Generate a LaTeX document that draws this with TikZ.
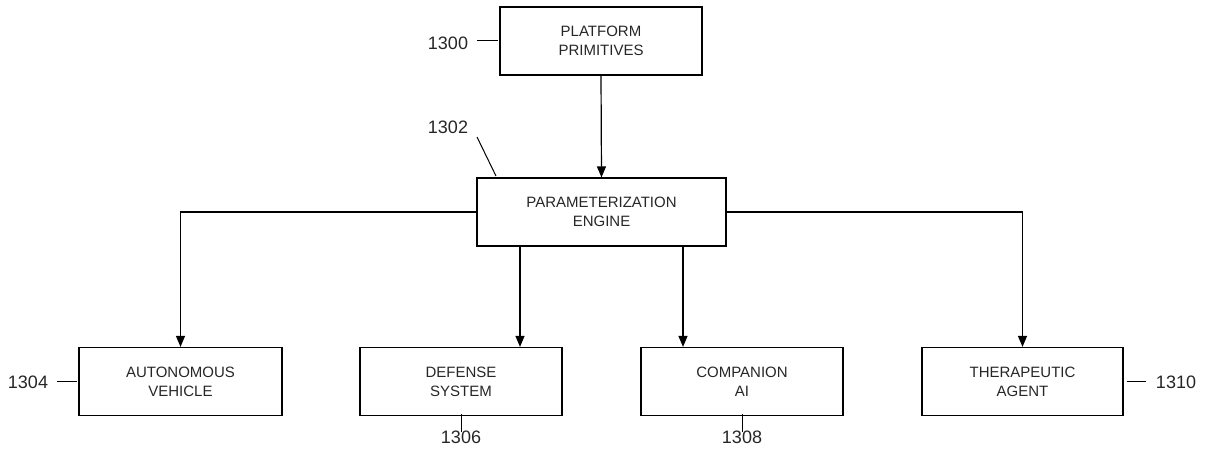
\documentclass[tikz,border=0pt]{standalone}
\usepackage{fontspec}
\setmainfont{Liberation Sans}
\usetikzlibrary{arrows.meta,calc}
\begin{document}
\begin{tikzpicture}[x=1pt,y=-1pt,
  box/.style={draw, line width=1.2pt, minimum height=68pt, inner sep=0pt, align=center,
    font=\fontsize{15}{19}\selectfont, text=black!85},
  arr/.style={line width=1.2pt, -{Triangle[length=11pt,width=9pt]}},
  lead/.style={line width=1pt},
  lbl/.style={inner sep=0pt, font=\fontsize{18}{20}\selectfont, text=black!85}]
\useasboundingbox (0,0) rectangle (1210,452);
\node[box, minimum width=202pt] (PP) at (601,41) {PLATFORM\\PRIMITIVES};
\node[box, minimum width=249pt] (PE) at (601.5,212) {PARAMETERIZATION\\ENGINE};
\node[box, minimum width=203pt] (AV) at (180.5,381.5) {AUTONOMOUS\\VEHICLE};
\node[box, minimum width=202pt] (DS) at (461,381.5) {DEFENSE\\SYSTEM};
\node[box, minimum width=202pt] (CA) at (742,381.5) {COMPANION\\AI};
\node[box, minimum width=201pt] (TA) at (1022.5,381.5) {THERAPEUTIC\\AGENT};
\coordinate (c1) at (520,0);
\coordinate (c2) at (683,0);
\draw[arr] (PP.south) -- (PE.north);
\draw[arr] (PE.west) -| (AV.north);
\draw[arr] (PE.east) -| (TA.north);
\draw[arr] (PE.south -| c1) -- (DS.north -| c1);
\draw[arr] (PE.south -| c2) -- (CA.north -| c2);
% labels
\node[lbl] (L1300) at (448,43) {1300};
\node[lbl] (L1302) at (448,127) {1302};
\node[lbl] (L1304) at (28,382) {1304};
\node[lbl] (L1306) at (461,437) {1306};
\node[lbl] (L1308) at (742,437) {1308};
\node[lbl] (L1310) at (1176,382) {1310};
\coordinate (k1302a) at (477,137);
\coordinate (k1302b) at (496,176);
\draw[lead] ([xshift=9pt]L1300.east |- PP.west) -- ([xshift=-1pt]PP.west);
\draw[lead] (k1302a) -- (k1302b);
\draw[lead] ([xshift=9pt]L1304.east |- AV.west) -- ([xshift=-1pt]AV.west);
\draw[lead] ([yshift=2pt]DS.south) -- ([yshift=-2pt]L1306.north -| DS.south);
\draw[lead] ([yshift=2pt]CA.south) -- ([yshift=-2pt]L1308.north -| CA.south);
\draw[lead] ([xshift=3pt]TA.east) -- ([xshift=-10pt]L1310.west |- TA.east);
\end{tikzpicture}
\end{document}
